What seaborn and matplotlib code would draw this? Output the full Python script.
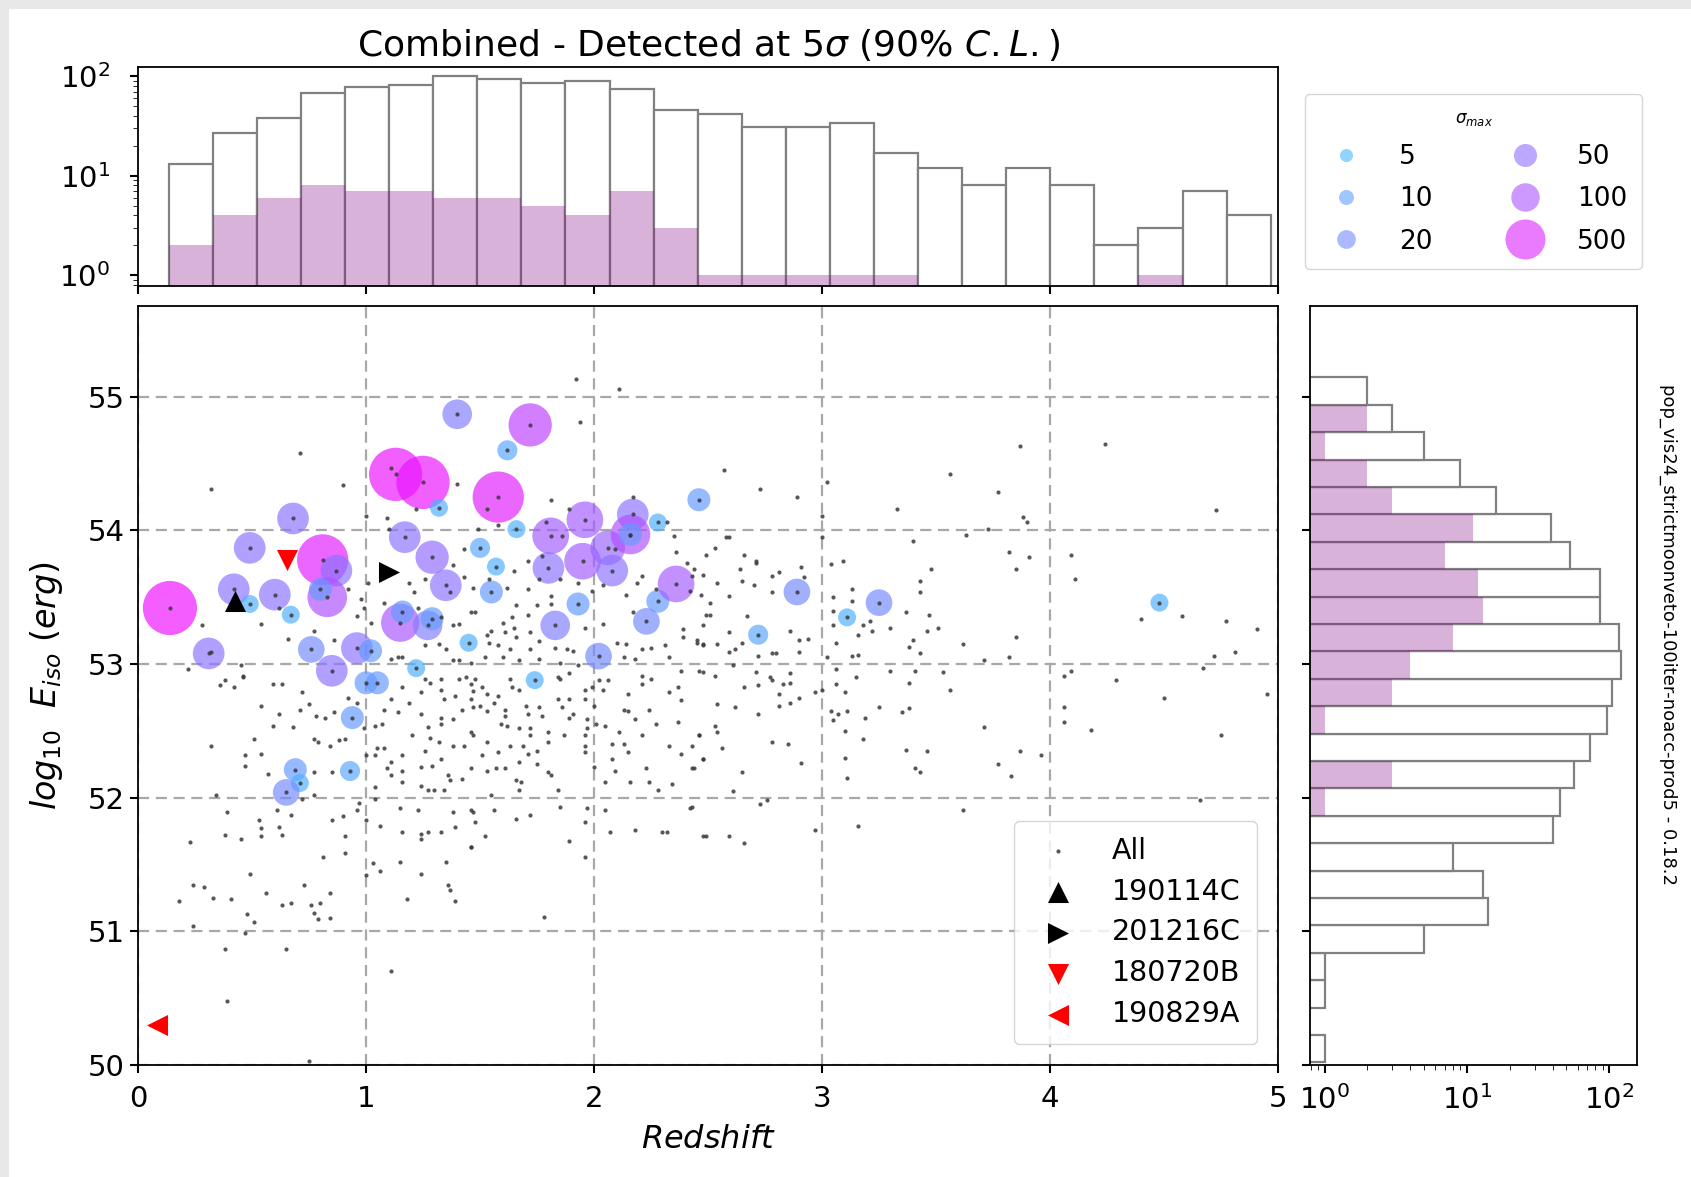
import numpy as np
import pandas as pd
import matplotlib
matplotlib.use("Agg")
import matplotlib.pyplot as plt
import seaborn as sns
from matplotlib.colors import LogNorm
from matplotlib.lines import Line2D
from matplotlib.patches import Rectangle

# ---------------- data ----------------
# "All" population (redshift, log10 Eiso)
all_pts = [
    (0.66,53.19),(0.77,53.25),(0.86,53.18),(0.96,53.36),(0.99,53.42),(1.02,53.31),(1.08,53.46),(1.23,53.42),
    (1.33,53.35),(1.38,53.29),(1.41,53.30),(1.46,53.39),(1.32,53.15),(1.35,53.11),(1.26,53.14),(1.14,53.05),
    (1.16,53.05),(1.11,53.04),(1.38,53.03),(1.41,53.03),(1.46,53.01),(0.46,52.90),(0.59,52.85),(0.63,52.85),
    (0.72,52.79),(0.75,52.70),(0.71,52.66),(0.54,52.69),(0.62,52.63),(0.59,52.54),(0.68,52.53),(0.78,52.61),
    (0.82,52.60),(0.86,52.64),(0.92,52.75),(0.96,52.71),(0.91,52.44),(0.88,52.43),(0.84,52.39),(0.79,52.42),
    (0.77,52.44),(0.51,52.44),(0.47,52.32),(0.54,52.33),(0.99,52.52),(1.00,52.32),(1.04,52.32),(1.05,52.37),
    (1.08,52.37),(1.11,52.27),(1.16,52.32),(1.04,52.54),(1.07,52.55),(1.08,52.66),(1.14,52.64),(1.11,52.74),
    (1.16,52.83),(1.19,52.71),(1.24,52.79),(1.26,52.89),(1.28,52.86),(1.33,52.89),(1.33,52.81),(1.34,52.74),
    (1.39,52.76),(1.41,52.89),(1.44,52.90),(1.46,52.85),(1.46,52.74),(1.42,52.66),(1.38,52.59),(1.33,52.60),
    (1.33,52.55),(1.27,52.53),(1.28,52.45),(1.32,52.42),(1.38,52.39),(1.43,52.39),(1.46,52.49),(1.20,52.47),
    (1.24,52.63),(0.47,52.24),(0.57,52.18),(0.77,52.19),(0.85,52.19),(1.04,52.08),(1.09,52.22),(1.11,52.17),
    (1.16,52.20),(1.16,52.12),(1.24,52.23),(1.29,52.24),(1.24,52.09),(1.27,52.06),(1.30,52.06),(1.34,52.06),
    (1.36,52.17),(1.37,52.13),(1.42,52.14),(1.46,52.22),(1.26,52.35),(1.33,52.29),(0.61,51.91),(0.67,51.87),
    (0.53,51.83),(0.54,51.77),(0.54,51.71),(0.62,51.78),(0.63,51.72),(0.45,51.69),(0.72,51.99),(0.77,52.02),
    (0.85,51.83),(0.90,51.86),(0.91,51.71),(0.96,51.91),(0.97,51.96),(1.00,51.83),(1.04,51.99),(1.15,51.92),
    (1.23,51.91),(1.06,51.79),(1.16,51.74),(1.24,51.73),(1.24,51.69),(1.27,51.74),(1.33,51.74),(1.39,51.78),
    (1.38,51.89),(1.46,51.91),(1.46,51.63),(0.81,51.56),(0.91,51.59),(1.03,51.51),(1.15,51.52),(1.06,51.45),
    (1.00,51.42),(0.49,51.43),(0.73,51.35),(1.24,51.43),(1.35,51.52),(1.36,51.35),
    (1.48,53.39),(1.53,53.22),(1.55,53.25),(1.60,53.31),(1.61,53.24),(1.65,53.27),(1.66,53.20),(1.64,53.35),
    (1.71,53.37),(1.72,53.24),(1.76,53.17),(1.72,53.11),(1.63,53.11),(1.58,53.14),(1.54,53.16),(1.52,53.05),
    (1.60,53.05),(1.67,53.03),(1.76,53.04),(1.83,53.12),(1.88,53.11),(1.91,53.10),(1.75,53.44),(1.81,53.45),
    (1.66,53.44),(1.96,53.27),(2.04,53.30),(2.10,53.16),(2.14,53.15),(2.21,53.11),(2.25,53.12),(2.33,53.05),
    (2.39,53.20),(2.45,53.16),(2.48,53.14),(2.31,53.14),(2.39,53.26),(2.49,53.37),(2.17,53.39),(2.13,53.05),
    (2.18,53.04),(1.93,52.99),(1.85,53.01),(1.48,52.89),(1.51,52.83),(1.47,52.80),(1.53,52.78),(1.58,52.76),
    (1.56,52.71),(1.50,52.69),(1.47,52.68),(1.53,52.65),(1.61,52.66),(1.63,52.89),(1.64,52.83),(1.67,52.81),
    (1.70,52.69),(1.76,52.68),(1.77,52.61),(1.71,52.63),(1.61,52.61),(1.59,52.55),(1.62,52.54),(1.67,52.52),
    (1.72,52.52),(1.72,52.47),(1.80,52.49),(1.87,52.47),(1.80,52.42),(1.47,52.47),(1.53,52.42),(1.63,52.39),
    (1.69,52.39),(1.75,52.35),(1.71,52.33),(1.58,52.34),(1.51,52.32),(1.67,52.27),(1.75,52.25),(1.80,52.19),
    (1.81,52.17),(1.53,52.20),(1.57,52.22),(1.61,52.22),(1.66,52.13),(1.68,52.12),(1.67,52.06),(1.84,52.06),
    (1.96,52.47),(1.96,52.39),(1.96,52.34),(1.97,52.52),(1.97,52.59),(1.96,52.74),(1.89,52.60),(1.91,52.63),
    (1.86,52.68),(1.84,52.74),(1.89,52.74),(1.85,52.89),(1.89,52.93),(1.84,52.90),(1.96,52.81),(1.99,52.83),
    (2.02,52.88),(2.04,52.81),(2.00,52.69),(2.01,52.55),(2.05,52.54),(2.00,52.23),(2.08,52.40),(2.13,52.40),
    (2.15,52.34),(2.08,52.29),(2.09,52.20),(2.05,52.12),(2.16,52.12),(2.23,52.22),(2.24,52.12),(2.28,52.06),
    (2.34,52.10),(2.11,52.49),(2.21,52.47),(2.27,52.55),(2.33,52.39),(2.38,52.33),(2.43,52.22),(2.46,52.47),
    (2.48,52.29),(2.37,52.57),(2.15,52.78),(2.15,52.65),(2.18,52.59),(2.13,52.66),(2.21,52.91),(2.25,52.89),
    (2.21,52.85),(2.24,52.66),(2.33,52.79),(2.37,52.83),(2.38,52.73),(2.38,52.95),(2.46,52.95),(2.06,52.88),
    (1.55,52.02),(1.47,51.89),(1.48,51.82),(1.56,51.91),(1.66,51.84),(1.72,51.87),(1.85,51.93),(1.97,51.92),
    (1.96,51.82),(2.05,51.91),(1.52,51.71),(1.46,51.63),(1.89,51.68),(1.96,51.56),(2.07,51.74),(2.18,51.76),
    (2.30,51.74),(2.32,51.74),(2.42,51.92),(2.49,51.71),
    (2.44,53.71),(2.48,53.67),(2.64,53.71),(2.65,53.62),(2.71,53.76),(2.78,53.66),(2.81,53.69),(2.91,53.73),
    (2.92,53.65),(3.04,53.75),(3.09,53.77),(2.54,53.61),(2.47,53.52),(2.59,53.51),(2.51,53.46),(2.51,53.37),
    (2.48,53.29),(2.78,53.54),(2.70,53.59),(2.67,53.36),(2.59,53.24),(2.45,53.18),(2.48,53.15),(2.54,53.15),
    (2.59,53.09),(2.62,53.11),(2.65,53.16),(2.72,53.06),(2.78,53.08),(2.80,53.08),(2.86,53.25),(2.90,53.18),
    (2.90,53.09),(2.94,53.19),(3.02,53.05),(3.05,53.50),(3.05,53.40),(3.05,53.29),(3.06,53.16),(3.13,53.56),
    (3.13,53.47),(3.18,53.29),(3.16,53.22),(3.21,53.32),(3.22,53.25),(3.30,53.27),(3.13,53.06),(3.16,53.07),
    (3.37,53.39),(3.38,53.13),(3.40,53.18),(3.43,53.62),(3.43,53.54),(3.43,53.08),(3.47,53.37),(3.46,53.25),
    (2.48,52.94),(2.53,52.91),(2.61,52.99),(2.66,52.83),(2.71,52.94),(2.72,52.84),(2.77,52.90),(2.78,52.88),
    (2.83,52.85),(2.86,52.86),(2.86,52.93),(2.81,52.78),(2.90,52.75),(2.86,52.71),(2.97,52.79),(3.00,52.81),
    (2.54,52.70),(2.62,52.68),(2.72,52.63),(2.81,52.69),(3.06,52.85),(3.10,52.79),(3.06,52.96),(3.15,52.90),
    (3.04,52.65),(3.07,52.63),(3.05,52.58),(3.11,52.65),(3.10,52.50),(3.19,52.60),(3.18,52.44),(3.25,52.68),
    (3.35,52.64),(3.38,52.67),(3.30,52.95),(3.38,52.86),(3.41,52.95),(2.46,52.47),(2.53,52.54),(2.54,52.49),
    (2.56,52.37),(2.43,52.39),(2.48,52.29),(2.44,52.22),(2.78,52.42),(2.85,52.40),(2.65,52.19),(2.91,52.26),
    (3.10,52.30),(3.11,52.15),(3.37,52.36),(3.41,52.22),(3.43,52.19),(3.46,52.35),(2.61,52.05),(2.73,51.95),
    (2.76,51.98),(2.43,51.93),(2.48,51.71),(2.59,51.71),(2.66,51.66),(2.97,51.76),(3.16,51.79),
    (1.92,55.13),(2.11,55.06),(1.94,54.81),(0.71,54.58),(0.32,54.31),(0.90,54.34),(1.11,54.47),(1.22,54.16),
    (1.40,54.35),(1.81,54.23),(1.58,54.04),(1.49,54.01),(1.53,54.16),(1.09,54.09),(1.10,54.01),(1.00,54.11),
    (1.71,53.77),(1.77,53.81),(1.89,54.16),(1.79,54.06),(1.86,53.96),(2.09,53.86),(2.17,54.25),(2.32,54.06),
    (2.36,53.84),(2.41,53.76),(2.21,53.66),(2.27,53.56),(2.43,53.66),(2.42,53.55),(2.35,53.96),(1.43,53.86),
    (1.38,53.74),(1.43,53.65),(1.47,53.57),(1.54,53.64),(1.62,53.57),(1.65,53.70),(1.71,53.56),(1.76,53.64),
    (1.81,53.51),(1.85,53.64),(1.93,53.61),(1.99,53.55),(2.04,53.59),(2.14,53.52),(2.19,53.61),(1.26,53.64),
    (1.19,53.61),(1.37,53.54),(1.21,53.54),(1.09,53.69),(1.01,53.61),(0.98,53.49),(0.92,53.56),(0.28,53.29),
    (0.32,53.09),(0.22,52.96),(0.36,52.84),(0.42,52.83),(0.46,52.91),(0.54,53.30),(0.62,53.42),(0.45,52.99),
    (0.38,52.88),
    (2.57,54.45),(2.73,54.31),(2.89,54.25),(3.02,54.36),(3.33,54.16),(3.56,54.42),(3.77,54.29),(3.87,54.63),
    (4.24,54.65),(4.73,54.15),(3.88,54.10),(3.90,54.06),(3.73,54.01),(3.63,53.97),(3.40,53.92),(3.00,54.11),
    (3.00,53.95),(2.59,53.95),(2.58,53.95),(2.53,53.87),(2.49,53.82),(2.66,53.82),(2.71,53.77),(4.09,53.82),
    (4.11,53.64),(3.82,53.84),(3.91,53.80),(3.85,53.71),(3.48,53.71),(3.51,53.27),(3.62,53.15),(3.85,53.20),
    (3.82,53.05),(3.71,53.03),(4.40,53.34),(4.58,53.36),(4.77,53.32),(4.91,53.26),(4.72,53.06),(4.81,53.09),
    (4.67,52.97),(4.29,52.88),(4.09,52.95),(4.06,52.91),(4.50,52.75),(4.95,52.78),(4.06,52.68),(4.06,52.57),
    (4.18,52.51),(4.75,52.47),(3.71,52.53),(3.56,52.81),(3.53,52.94),
    (3.77,52.25),(3.87,52.35),(3.96,52.32),(3.83,52.16),(3.62,51.91),(4.66,51.98),
    (0.32,52.39),(0.23,51.67),(0.24,51.35),(0.29,51.33),(0.33,51.25),(0.18,51.23),(0.39,51.89),(0.38,51.72),
    (0.41,51.24),(0.34,52.02),(0.24,51.04),(0.38,50.87),(0.39,50.48),(0.47,50.99),(0.56,51.29),(0.48,51.13),
    (0.51,51.07),(0.63,51.20),(0.67,51.21),(0.76,51.20),(0.80,51.21),(0.77,51.14),(0.79,51.09),(0.84,51.10),
    (0.84,51.29),(0.65,50.87),(0.75,50.03),(1.11,50.70),(1.18,51.24),(1.37,51.31),(1.39,51.23),(1.78,51.11),
]

# detected GRBs: redshift, log10 Eiso, sigma_max
det_z = [0.14,0.31,0.42,0.49,0.49,0.60,0.68,0.67,0.76,0.81,0.87,0.83,0.80,0.85,0.96,1.02,1.00,1.05,0.94,
         1.13,1.25,1.32,1.17,1.29,1.35,1.15,1.16,1.27,1.29,1.22,1.40,1.62,1.72,1.58,1.66,1.50,1.57,1.55,
         1.45,1.74,1.81,1.80,1.93,1.83,1.96,1.95,2.02,2.06,2.08,2.17,2.16,2.16,2.28,2.23,2.28,2.36,2.46,
         2.89,2.72,3.11,3.25,4.48,0.69,0.93,0.71,0.65]
det_e = [53.42,53.08,53.56,53.45,53.87,53.52,54.09,53.37,53.11,53.78,53.70,53.50,53.56,52.95,53.12,53.10,
         52.86,52.86,52.60,54.42,54.36,54.17,53.95,53.80,53.59,53.31,53.39,53.29,53.34,52.97,54.87,54.60,
         54.79,54.25,54.01,53.87,53.73,53.54,53.16,52.88,53.96,53.72,53.45,53.29,54.08,53.77,53.06,53.87,
         53.70,54.12,53.97,53.97,54.06,53.32,53.47,53.60,54.23,53.54,53.22,53.35,53.46,53.46,52.21,52.20,
         52.11,52.04]
det_sigma = [900,40,40,6,40,40,40,6,20,600,40,120,12,40,40,12,12,12,12,
             800,800,6,40,50,40,100,12,30,12,6,30,8,200,600,6,8,6,12,
             6,6,80,40,12,30,80,80,20,60,40,40,120,12,6,20,12,80,12,
             20,8,6,20,6,12,8,6,20]

# highlighted GRBs
grb_names = ["190114C", "201216C", "180720B", "190829A"]
grb_z = [0.425, 1.10, 0.654, 0.085]
grb_e = [53.47, 53.69, 53.78, 50.30]

# histogram counts (25 bins each)
z_bin_range = (0.135, 4.968)
z_counts_all = [13,27,38,68,78,82,100,93,86,90,75,46,42,31,31,34,17,12,8,12,8,2,3,7,4]
z_counts_det = [2,4,6,8,7,7,6,6,5,4,7,3,1,1,1,1,1,0,0,0,0,0,1,0,0]
e_bin_range = (50.02, 55.145)
e_counts_all = [1,0,1,1,5,14,13,8,40,45,57,73,96,105,121,117,86,86,53,39,16,9,5,3,2]
e_counts_det = [0,0,0,0,0,0,0,0,0,1,3,0,1,3,4,8,13,12,7,11,3,2,1,2,0]

legend_sigmas = [5, 10, 20, 50, 100, 500]

# ---------------- style ----------------
plt.rcParams.update({
    "axes.edgecolor": "black",
    "axes.linewidth": 1.3,
    "xtick.major.size": 6, "ytick.major.size": 6,
    "xtick.major.width": 1.5, "ytick.major.width": 1.5,
    "xtick.minor.size": 3.5, "ytick.minor.size": 3.5,
    "xtick.labelsize": 21, "ytick.labelsize": 21,
    "xtick.major.pad": 8.5,
})
plt.rcParams['font.family'] = ['DejaVu Sans']

W, H = 1691, 1177
fig = plt.figure(figsize=(W / 100, H / 100), dpi=100)
fig.patch.set_facecolor('white')
fig.add_artist(Rectangle((0, (H - 9) / H), 1, 9 / H, transform=fig.transFigure,
                         facecolor='#e8e8e8', edgecolor='none', zorder=-10))
fig.add_artist(Rectangle((0, 0), 9 / W, 1, transform=fig.transFigure,
                         facecolor='#e8e8e8', edgecolor='none', zorder=-10))

ax = fig.add_axes([138 / W, (H - 1065) / H, 1140 / W, 759 / H])
ax_top = fig.add_axes([138 / W, (H - 286) / H, 1140 / W, 219 / H])
ax_r = fig.add_axes([1310 / W, (H - 1065) / H, 327 / W, 759 / H])

# ---------------- main scatter ----------------
cmap = plt.get_cmap('cool')
hnorm = LogNorm(vmin=0.5, vmax=1500)
det = pd.DataFrame({'z': det_z, 'E': det_e, 'sigma': det_sigma})
levels = sorted(set(det_sigma))
size_map = {s: (0.72 * (18 + 16.6 * (np.log10(s) - 0.778))) ** 2 for s in levels}
sns.scatterplot(data=det, x='z', y='E', hue='sigma', size='sigma', palette='cool', hue_norm=hnorm,
                sizes=size_map, alpha=0.68, linewidth=0, legend=False, ax=ax, zorder=2)

all_df = pd.DataFrame(all_pts + list(zip(det_z, det_e)), columns=['z', 'E'])
sns.scatterplot(data=all_df, x='z', y='E', color='#3a3a3a', s=9, linewidth=0, alpha=0.85,
                ax=ax, zorder=3, label='All')

grb_style = [('^', 'black'), ('>', 'black'), ('v', 'red'), ('<', 'red')]
for name, zz, ee, (mk, col) in zip(grb_names, grb_z, grb_e, grb_style):
    sns.scatterplot(x=[zz], y=[ee], marker=mk, color=col, s=230, linewidth=0, ax=ax, zorder=4, label=name)

ax.set_xlim(0, 5)
ax.set_ylim(50, 55.68)
ax.set_xticks(range(0, 6))
ax.set_yticks(range(50, 56))
ax.grid(True, ls=(0, (5, 3)), color='#a8a8a8', lw=1.6)
ax.set_xlabel(r"$Redshift$", fontsize=23, labelpad=8)
ax.set_ylabel(r"$log_{10}$  $E_{iso}$ $(erg)$", fontsize=24, labelpad=16)
ax.legend(loc='lower right', fontsize=20.5, labelspacing=0.45, handletextpad=0.9,
          borderaxespad=0.75, borderpad=0.55, framealpha=0.8)

# ---------------- top histogram ----------------
z_edges = list(np.linspace(z_bin_range[0], z_bin_range[1], len(z_counts_all) + 1))
z_centers = [0.5 * (a + b) for a, b in zip(z_edges[:-1], z_edges[1:])]
zdf = pd.DataFrame({'z': z_centers, 'n_all': z_counts_all, 'n_det': z_counts_det})
sns.histplot(data=zdf, x='z', weights='n_all', bins=z_edges, ax=ax_top, color='white',
             edgecolor='#808080', linewidth=1.6, alpha=1)
sns.histplot(data=zdf, x='z', weights='n_det', bins=z_edges, ax=ax_top, color='purple',
             edgecolor='none', linewidth=0, alpha=0.3)
ax_top.set_yscale('log')
ax_top.set_xlim(0, 5)
ax_top.set_ylim(0.78, 124)
ax_top.set_xticks(range(0, 6))
ax_top.tick_params(labelbottom=False)
ax_top.tick_params(axis='y', which='major', pad=14)
ax_top.set_xlabel('')
ax_top.set_ylabel('')
ax_top.set_title(r"Combined - Detected at 5$\sigma$ (90% $C.L.$)", fontsize=26, pad=8)

# ---------------- right histogram ----------------
e_edges = list(np.linspace(e_bin_range[0], e_bin_range[1], len(e_counts_all) + 1))
e_centers = [0.5 * (a + b) for a, b in zip(e_edges[:-1], e_edges[1:])]
edf = pd.DataFrame({'E': e_centers, 'n_all': e_counts_all, 'n_det': e_counts_det})
sns.histplot(data=edf, y='E', weights='n_all', bins=e_edges, ax=ax_r, color='white',
             edgecolor='#808080', linewidth=1.6, alpha=1)
sns.histplot(data=edf, y='E', weights='n_det', bins=e_edges, ax=ax_r, color='purple',
             edgecolor='none', linewidth=0, alpha=0.3)
ax_r.set_xscale('log')
ax_r.set_xlim(0.79, 157)
ax_r.set_ylim(50, 55.68)
ax_r.set_yticks(range(50, 56))
ax_r.tick_params(labelleft=False)
ax_r.set_xlabel('')
ax_r.set_ylabel('')

# ---------------- sigma legend ----------------
handles = [Line2D([0], [0], marker='o', ls='', markersize=ms, markeredgewidth=0,
                  color=cmap(hnorm(v)), alpha=0.6)
           for v, ms in zip(legend_sigmas, [9.4, 10.8, 13.5, 16.6, 20.5, 28.8])]
fig.legend(handles, [str(v) for v in legend_sigmas], title=r"$\sigma_{max}$", title_fontsize=12,
           ncol=2, loc='upper left', bbox_to_anchor=(1305 / W, 1 - 94 / H), borderaxespad=0,
           fontsize=19, handlelength=2.0, columnspacing=2.5, labelspacing=0.62,
           handletextpad=1.0, borderpad=0.55, framealpha=0.8)

fig.text(1668 / W, 1 - 634 / H, "pop_vis24_strictmoonveto-100iter-noacc-prod5 - 0.18.2",
         rotation=270, fontsize=13, ha='center', va='center')

fig.savefig("out.png", dpi=100, facecolor=fig.get_facecolor())
